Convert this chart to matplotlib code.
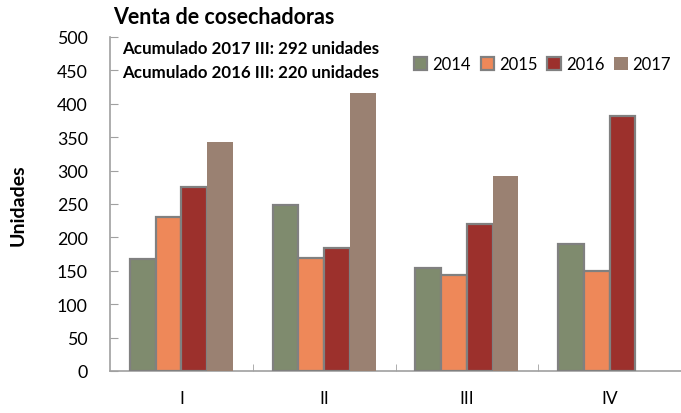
import matplotlib.pyplot as plt
import numpy as np

plt.rcParams['font.family'] = ['Lato', 'DejaVu Sans']

quarters = ['I', 'II', 'III', 'IV']
years = ['2014', '2015', '2016', '2017']
sales = {
    '2014': [167, 248, 154, 190],
    '2015': [230, 169, 144, 149],
    '2016': [276, 184, 220, 382],
    '2017': [343, 416, 292, np.nan],
}
colors = ['#7f8b6e', '#ee8859', '#9c302c', '#9a8172']
edges = ['#808080', '#808080', '#808080', 'none']

fig = plt.figure(figsize=(6.81, 4.14), dpi=100)
ax = fig.add_axes([110 / 681, 1 - 372 / 414, 571 / 681, 334 / 414])

x = np.arange(len(quarters))
w = 0.18
for i, yr in enumerate(years):
    ax.bar(x + (i - 1.5) * w, sales[yr], width=w, color=colors[i],
           edgecolor=edges[i], linewidth=1.6, label=yr, zorder=3)

ax.set_xlim(-0.5, 3.5)
ax.set_ylim(0, 500)
ax.set_yticks(np.arange(0, 501, 50))
ax.set_xticks(x)
ax.set_xticklabels(quarters)
ax.set_xticks(np.arange(0.5, 3.5, 1), minor=True)
ax.tick_params(axis='x', which='major', length=0, pad=14, labelsize=12.5)
ax.tick_params(axis='x', which='minor', direction='in', length=5, color='#a0a0a0')
ax.tick_params(axis='y', direction='in', length=6, color='#a0a0a0', pad=16, labelsize=12.8)
for s in ['top', 'right']:
    ax.spines[s].set_visible(False)
for s in ['left', 'bottom']:
    ax.spines[s].set_color('#a0a0a0')
    ax.spines[s].set_linewidth(1.2)

ax.set_ylabel('Unidades', fontsize=14, fontweight='bold')
ax.yaxis.set_label_coords(-83 / 571, 0.5)
fig.text(113 / 681, 1 - 18 / 414, 'Venta de cosechadoras', fontsize=15.5,
         fontweight='bold', va='center', ha='left')

ax.text(0.022, 0.966, 'Acumulado 2017 III: 292 unidades', transform=ax.transAxes,
        fontsize=12.2, fontweight='bold', va='center')
ax.text(0.022, 0.895, 'Acumulado 2016 III: 220 unidades', transform=ax.transAxes,
        fontsize=12.2, fontweight='bold', va='center')

ax.legend(loc='upper left', bbox_to_anchor=(0.532, 0.942), ncol=4, frameon=False,
          fontsize=12, handlelength=0.8, handleheight=0.8, handletextpad=0.3,
          columnspacing=0.6, borderpad=0, borderaxespad=0)

fig.savefig('out.png', dpi=100)
